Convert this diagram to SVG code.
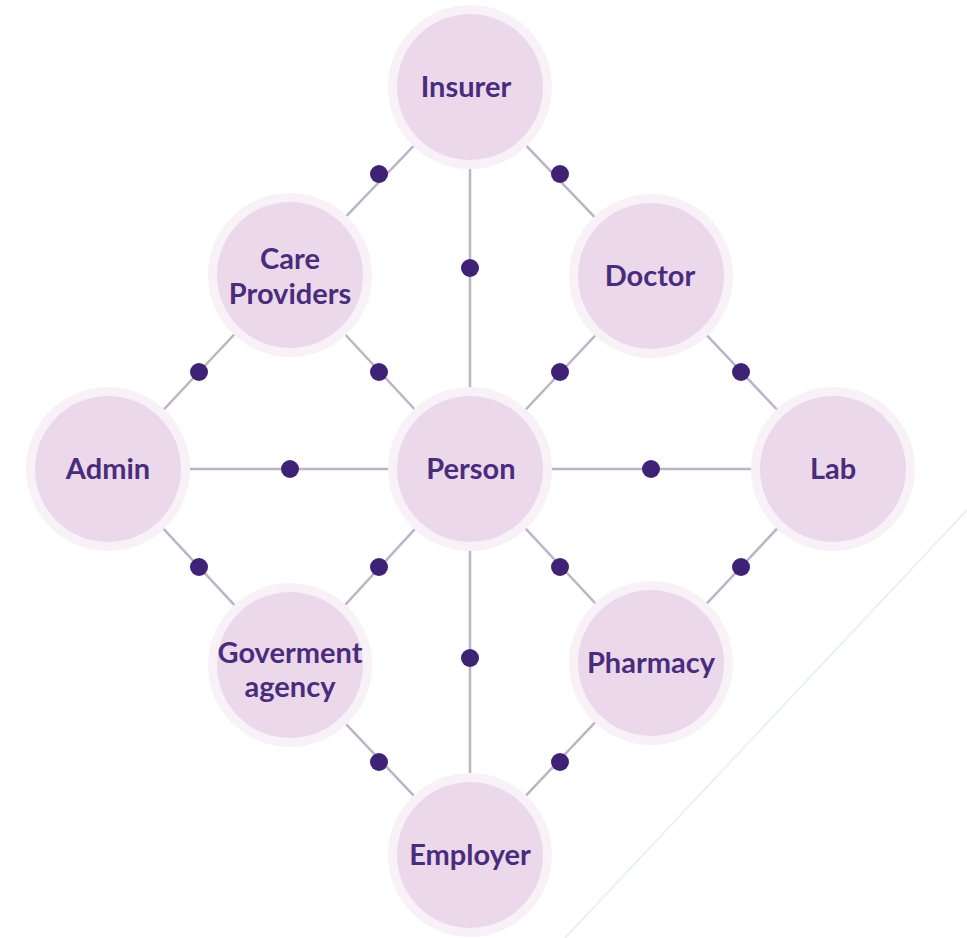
<svg xmlns="http://www.w3.org/2000/svg" width="967" height="938" viewBox="0 0 967 938">
  <style>
    .link { stroke: #bab5c6; stroke-width: 2.5; fill: none; }
    .dot { fill: #3f2275; }
    .halo { fill: #f8f1f8; }
    .disc { fill: #ebd9eb; }
    .label { font-family: Lato, "Open Sans", sans-serif; font-weight: 700; font-size: 29px; fill: #4a2c7c; text-anchor: middle; }
  </style>
  <rect width="967" height="938" fill="#ffffff"/>
  <!-- faint backdrop stroke -->
  <line x1="967" y1="510" x2="565" y2="938" stroke="#e8f2f8" stroke-width="2"/>

  <g id="connectors">
    <line class="link" x1="470" y1="87" x2="290" y2="275"/>
    <line class="link" x1="470" y1="87" x2="651" y2="276"/>
    <line class="link" x1="470" y1="87" x2="470" y2="469"/>
    <line class="link" x1="290" y1="275" x2="108" y2="469"/>
    <line class="link" x1="290" y1="275" x2="470" y2="469"/>
    <line class="link" x1="651" y1="276" x2="470" y2="469"/>
    <line class="link" x1="651" y1="276" x2="833" y2="469"/>
    <line class="link" x1="108" y1="469" x2="833" y2="469"/>
    <line class="link" x1="108" y1="469" x2="290" y2="665"/>
    <line class="link" x1="470" y1="469" x2="290" y2="665"/>
    <line class="link" x1="470" y1="469" x2="651" y2="663"/>
    <line class="link" x1="833" y1="469" x2="651" y2="663"/>
    <line class="link" x1="470" y1="469" x2="470" y2="855"/>
    <line class="link" x1="290" y1="665" x2="470" y2="855"/>
    <line class="link" x1="651" y1="663" x2="470" y2="855"/>
    <circle class="dot" cx="379" cy="174" r="9"/>
    <circle class="dot" cx="560" cy="174" r="9"/>
    <circle class="dot" cx="470" cy="268" r="9"/>
    <circle class="dot" cx="199" cy="372" r="9"/>
    <circle class="dot" cx="379" cy="372" r="9"/>
    <circle class="dot" cx="560" cy="372" r="9"/>
    <circle class="dot" cx="741" cy="372" r="9"/>
    <circle class="dot" cx="290" cy="469" r="9"/>
    <circle class="dot" cx="651" cy="469" r="9"/>
    <circle class="dot" cx="199" cy="567" r="9"/>
    <circle class="dot" cx="379" cy="567" r="9"/>
    <circle class="dot" cx="560" cy="567" r="9"/>
    <circle class="dot" cx="741" cy="567" r="9"/>
    <circle class="dot" cx="470" cy="658" r="9"/>
    <circle class="dot" cx="379" cy="762" r="9"/>
    <circle class="dot" cx="560" cy="762" r="9"/>
  </g>

  <g id="insurer">
    <circle class="halo" cx="470" cy="87" r="82"/>
    <circle class="disc" cx="470" cy="87" r="73"/>
    <text class="label" x="466" y="97">Insurer</text>
  </g>
  <g id="care-providers">
    <circle class="halo" cx="290" cy="275" r="82"/>
    <circle class="disc" cx="290" cy="275" r="73"/>
    <text class="label" x="290" y="269">Care</text>
    <text class="label" x="290" y="304">Providers</text>
  </g>
  <g id="doctor">
    <circle class="halo" cx="651" cy="276" r="82"/>
    <circle class="disc" cx="651" cy="276" r="73"/>
    <text class="label" x="650" y="286">Doctor</text>
  </g>
  <g id="admin">
    <circle class="halo" cx="108" cy="469" r="82"/>
    <circle class="disc" cx="108" cy="469" r="73"/>
    <text class="label" x="108" y="479">Admin</text>
  </g>
  <g id="person">
    <circle class="halo" cx="470" cy="469" r="82"/>
    <circle class="disc" cx="470" cy="469" r="73"/>
    <text class="label" x="471" y="479">Person</text>
  </g>
  <g id="lab">
    <circle class="halo" cx="833" cy="469" r="82"/>
    <circle class="disc" cx="833" cy="469" r="73"/>
    <text class="label" x="833" y="479">Lab</text>
  </g>
  <g id="goverment-agency">
    <circle class="halo" cx="290" cy="665" r="82"/>
    <circle class="disc" cx="290" cy="665" r="73"/>
    <text class="label" x="290" y="663">Goverment</text>
    <text class="label" x="290" y="697">agency</text>
  </g>
  <g id="pharmacy">
    <circle class="halo" cx="651" cy="663" r="82"/>
    <circle class="disc" cx="651" cy="663" r="73"/>
    <text class="label" x="651" y="673">Pharmacy</text>
  </g>
  <g id="employer">
    <circle class="halo" cx="470" cy="855" r="82"/>
    <circle class="disc" cx="470" cy="855" r="73"/>
    <text class="label" x="470" y="865">Employer</text>
  </g>
</svg>
